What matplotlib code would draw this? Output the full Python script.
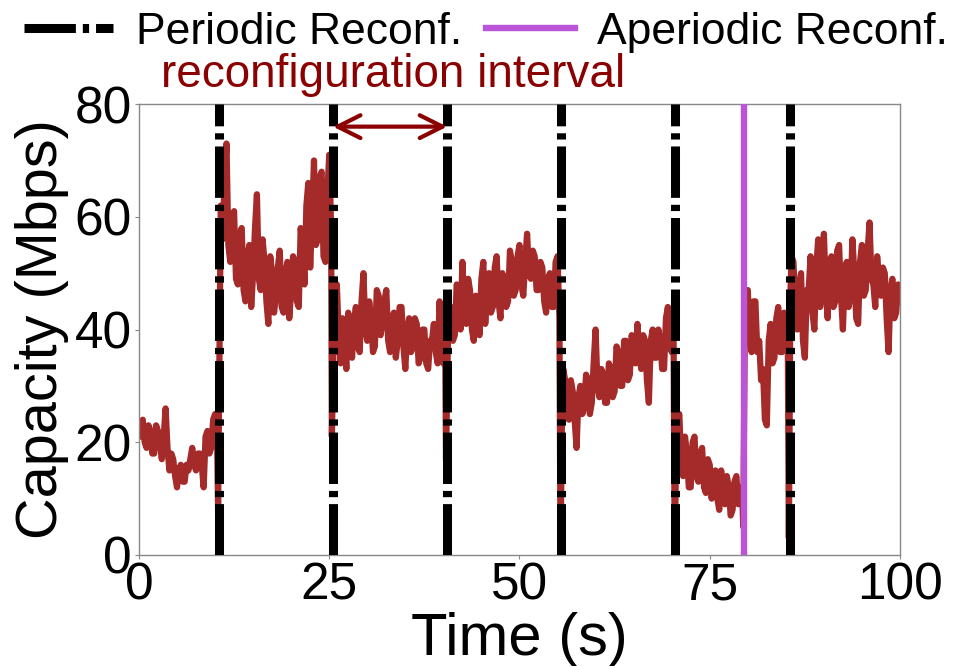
import numpy as np
import matplotlib.pyplot as plt
from matplotlib.lines import Line2D

plt.rcParams['font.family'] = ['Liberation Sans', 'DejaVu Sans']
plt.rcParams['lines.scale_dashes'] = False

# capacity trace (Mbps), sampled every 0.25 s inside each reconfiguration interval
step = 0.25
seg_start = [0, 10.75, 25.75, 40.75, 55.75, 70.75, 79.75, 85.75]

cap_a = [22, 21, 24, 20, 19, 23, 22, 18, 18, 23, 22, 20, 17, 21, 26, 19, 15, 18, 17, 14,
         12, 15, 16, 13, 13, 16, 15, 17, 19, 16, 15, 18, 18, 16, 12, 21, 22, 18, 19, 24,
         25, 23]
cap_b = [62, 56, 66, 73, 55, 52, 60, 61, 49, 48, 57, 58, 47, 45, 53, 55, 44, 50, 58, 64,
         49, 47, 56, 52, 45, 41, 53, 50, 43, 46, 51, 54, 44, 43, 50, 52, 42, 47, 53, 52,
         45, 44, 58, 55, 48, 62, 66, 51, 60, 70, 55, 56, 67, 68, 53, 52, 64, 71, 58]
cap_c = [36, 48, 39, 34, 42, 38, 33, 43, 40, 35, 41, 44, 37, 36, 45, 50, 40, 38, 45, 42,
         36, 37, 47, 46, 39, 41, 45, 47, 38, 36, 42, 43, 35, 38, 44, 44, 37, 33, 40, 42,
         36, 37, 42, 41, 34, 35, 40, 40, 34, 33, 38, 38, 41, 36, 34, 45, 38, 34, 36]
cap_d = [43, 44, 38, 39, 48, 47, 40, 52, 44, 41, 49, 47, 40, 38, 46, 45, 39, 49, 52, 41,
         47, 50, 43, 44, 51, 53, 45, 42, 50, 48, 44, 45, 54, 52, 46, 47, 53, 55, 48, 46,
         52, 57, 50, 49, 54, 53, 47, 47, 52, 51, 45, 43, 49, 50, 44, 44, 52, 53, 42]
cap_e = [33, 31, 25, 24, 31, 29, 24, 19, 28, 30, 25, 26, 32, 31, 25, 27, 34, 40, 30, 28,
         33, 32, 27, 27, 34, 33, 28, 29, 37, 36, 30, 30, 38, 38, 31, 32, 39, 36, 34, 41,
         36, 33, 39, 38, 31, 27, 38, 40, 35, 35, 40, 38, 33, 33, 42, 44, 37, 36, 39]
cap_f = [24, 25, 17, 14, 21, 18, 12, 12, 20, 21, 14, 13, 18, 19, 12, 11, 17, 16, 10, 13,
         15, 10, 8, 15, 12, 9, 14, 12, 7, 8, 13, 14, 9, 10, 12]
cap_g = [44, 47, 39, 36, 45, 45, 36, 38, 31, 33, 24, 23, 38, 41, 34, 35, 42, 44, 36, 36,
         43, 42, 40]
cap_h = [53, 52, 43, 40, 48, 50, 38, 35, 47, 47, 53, 43, 40, 51, 56, 44, 48, 57, 47, 42,
         52, 53, 44, 45, 54, 55, 46, 40, 50, 52, 44, 46, 56, 50, 42, 41, 52, 55, 46, 47,
         54, 59, 49, 48, 44, 53, 49, 46, 51, 50, 42, 36, 47, 49, 42, 43, 48, 45]

# samples right before / after each reconfiguration (dip and recovery)
edge_t = [10.4, 10.6, 25.35, 25.6, 40.35, 40.6, 55.4, 55.6, 70.4, 70.6, 79.4, 79.6, 85.4, 85.6]
edge_c = [8, 40, 21, 40, 17, 38, 0, 27, 0, 20, 5, 38, 3, 46]

periodic_times = [10.5, 25.5, 40.5, 55.5, 70.5, 85.5]
aperiodic_times = [79.5]

x_ticks = [0, 25, 50, 75, 100]
y_ticks = [0, 20, 40, 60, 80]

segments = [cap_a, cap_b, cap_c, cap_d, cap_e, cap_f, cap_g, cap_h]
time_s = np.concatenate([s + step * np.arange(len(c)) for s, c in zip(seg_start, segments)] + [edge_t])
capacity = np.concatenate(segments + [edge_c])
order = np.argsort(time_s)
time_s, capacity = time_s[order], capacity[order]

trace_color = '#a52a2a'
purple = '#bb55d8'
dark_red = '#8b0000'
dashdot = (0, (37, 5, 4.5, 5))

fig = plt.figure(figsize=(9.67, 6.66), dpi=100)
ax = fig.add_axes([0.1437, 0.1667, 0.787, 0.677])

ax.plot(time_s, capacity, color=trace_color, lw=4.5, zorder=2)
for t in periodic_times:
    ax.axvline(t, color='black', lw=6.5, linestyle=dashdot, zorder=3)
for t in aperiodic_times:
    ax.axvline(t, color=purple, lw=4.6, zorder=4)

# arrow marking one reconfiguration interval
ax.annotate('', xy=(25.5, 76), xytext=(40.5, 76),
            arrowprops=dict(arrowstyle='<->', color=dark_red, lw=3,
                            mutation_scale=41, shrinkA=0, shrinkB=0))
fig.text(161 / 967, 1 - 75 / 666, 'reconfiguration interval', color=dark_red,
         fontsize=33, ha='left', va='center')

ax.set_xlim(0, 100)
ax.set_ylim(0, 80)
ax.set_xticks(x_ticks)
ax.set_yticks(y_ticks)
ax.tick_params(labelsize=37, length=3, width=0.8, color='#888888', pad=2)
for sp in ax.spines.values():
    sp.set_color('#888888')
    sp.set_linewidth(1)
ax.set_xlabel('Time (s)', fontsize=43, labelpad=1)
ax.set_ylabel('Capacity (Mbps)', fontsize=41.5, labelpad=4)

handles = [Line2D([], [], color='black', lw=6.5, linestyle=dashdot),
           Line2D([], [], color=purple, lw=4.6)]
fig.legend(handles, ['Periodic Reconf.', 'Aperiodic Reconf.'], loc='upper center',
           bbox_to_anchor=(0.503, 0.982), ncol=2, frameon=False, fontsize=32,
           handlelength=2.0, handletextpad=0.5, columnspacing=0.55,
           borderpad=0, borderaxespad=0)

fig.savefig('out.png', dpi=100)
